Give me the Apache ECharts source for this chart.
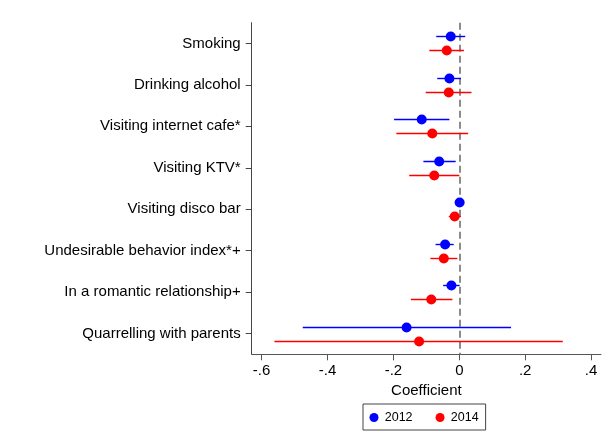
<!DOCTYPE html>
<html>
<head>
<meta charset="utf-8">
<script src="https://cdn.jsdelivr.net/npm/echarts@6/dist/echarts.min.js"></script>
<style>
  html, body { margin: 0; padding: 0; background: #fff; }
  #chart { width: 610px; height: 448px; }
</style>
</head>
<body>
<div id="chart"></div>
<script>
// Outcome variables (top to bottom)
const categories = [
  'Smoking',
  'Drinking alcohol',
  'Visiting internet cafe*',
  'Visiting KTV*',
  'Visiting disco bar',
  'Undesirable behavior index*+',
  'In a romantic relationship+',
  'Quarrelling with parents'
];

// Point estimates and confidence bounds, 2012 wave
const mean2012 = [-0.026, -0.030, -0.114, -0.061, 0.001, -0.043, -0.024, -0.160];
const lo2012   = [-0.070, -0.067, -0.198, -0.109, -0.002, -0.072, -0.049, -0.475];
const hi2012   = [ 0.018,  0.005, -0.030, -0.011,  0.004, -0.017,  0.001,  0.157];

// Point estimates and confidence bounds, 2014 wave
const mean2014 = [-0.038, -0.032, -0.082, -0.076, -0.014, -0.047, -0.085, -0.122];
const lo2014   = [-0.091, -0.102, -0.191, -0.152, -0.032, -0.088, -0.147, -0.561];
const hi2014   = [ 0.014,  0.037,  0.027,  0.000,  0.005, -0.006, -0.021,  0.314];

// Coefficient axis ticks
const xTicks = [-0.6, -0.4, -0.2, 0, 0.2, 0.4];

const FONT = '"Liberation Sans", Arial, Helvetica, sans-serif';

function tickText(v) {
  if (v === 0) return '0';
  const s = String(Math.abs(Math.round(v * 10) / 10)).replace(/^0/, '');
  return (v < 0 ? '-' : '') + s;
}

function buildRows(mean, lo, hi) {
  return categories.map((c, i) => [i, lo[i], hi[i], mean[i]]);
}

// Confidence interval bar plus point estimate, shifted up or down within the row
function makeRender(color, dy) {
  return function (params, api) {
    const cat = api.value(0);
    const pLo = api.coord([api.value(1), cat]);
    const pHi = api.coord([api.value(2), cat]);
    const pM = api.coord([api.value(3), cat]);
    const y = Math.round(pM[1] + dy) + 0.5;
    return {
      type: 'group',
      children: [
        {
          type: 'rect',
          shape: { x: pLo[0], y: y - 0.7, width: Math.max(pHi[0] - pLo[0], 0.5), height: 1.4 },
          style: { fill: color }
        },
        {
          type: 'circle',
          shape: { cx: pM[0], cy: y, r: 5 },
          style: { fill: color }
        }
      ]
    };
  };
}

const chart = echarts.init(document.getElementById('chart'));
chart.setOption({
  animation: false,
  backgroundColor: '#fff',
  textStyle: { fontFamily: FONT },
  grid: { left: 251.7, right: 9, top: 22.7, bottom: 93.7, containLabel: false },
  xAxis: {
    type: 'value',
    min: -0.63,
    max: 0.43,
    name: 'Coefficient',
    nameLocation: 'middle',
    nameGap: 26,
    nameTextStyle: { color: '#000', fontSize: 15, fontFamily: FONT },
    splitLine: { show: false },
    axisLine: { show: true, onZero: false, lineStyle: { color: '#555', width: 1 } },
    axisTick: { show: true, length: 6, customValues: xTicks, lineStyle: { color: '#555' } },
    axisLabel: {
      customValues: xTicks,
      formatter: tickText,
      color: '#000',
      fontSize: 15,
      fontFamily: FONT,
      margin: 9
    }
  },
  yAxis: {
    type: 'category',
    inverse: true,
    data: categories,
    axisLine: { show: true, onZero: false, lineStyle: { color: '#444', width: 1 } },
    axisTick: { show: true, alignWithLabel: true, length: 6, lineStyle: { color: '#444' } },
    axisLabel: { color: '#000', fontSize: 15, fontFamily: FONT, margin: 11 },
    splitLine: { show: false }
  },
  legend: {
    left: 363,
    top: 404,
    orient: 'horizontal',
    icon: 'circle',
    itemWidth: 11.5,
    itemHeight: 9,
    itemGap: 23,
    padding: [7, 7, 6, 6.5],
    borderColor: '#444',
    borderWidth: 1,
    textStyle: { color: '#000', fontSize: 12.5, fontFamily: FONT },
    data: ['2012', '2014']
  },
  series: [
    {
      name: '2012',
      type: 'custom',
      itemStyle: { color: '#0000ff' },
      renderItem: makeRender('#0000ff', -7),
      encode: { x: [1, 2, 3], y: 0 },
      data: buildRows(mean2012, lo2012, hi2012),
      z: 3,
      markLine: {
        silent: true,
        symbol: 'none',
        label: { show: false },
        lineStyle: { color: '#8c8c8c', type: [7, 4], width: 2 },
        data: [{ xAxis: 0 }],
        z: 1
      }
    },
    {
      name: '2014',
      type: 'custom',
      itemStyle: { color: '#ff0000' },
      renderItem: makeRender('#ff0000', 7),
      encode: { x: [1, 2, 3], y: 0 },
      data: buildRows(mean2014, lo2014, hi2014),
      z: 3
    }
  ]
});
</script>
</body>
</html>
